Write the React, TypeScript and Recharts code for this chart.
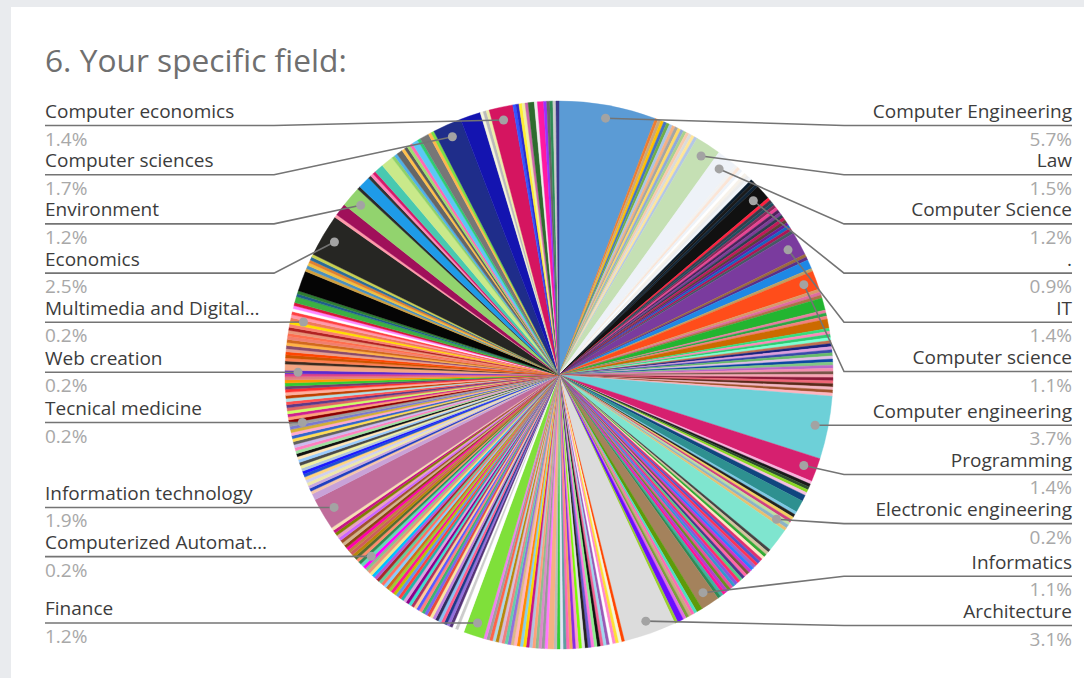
import React from 'react';
import { PieChart, Pie, Cell } from 'recharts';

// ---------- DATA (shares in % of answers, clockwise from 12 o'clock) ----------
const fieldNames = [
  'Computer Engineering', 'Law', 'Computer Science', '.', 'IT', 'Computer science',
  'Computer engineering', 'Programming', 'Electronic engineering', 'Informatics',
  'Architecture', 'Finance', 'Computerized Automat…', 'Information technology',
  'Tecnical medicine', 'Web creation', 'Multimedia and Digital…', 'Economics',
  'Environment', 'Computer sciences', 'Computer economics',
];
const fieldShares = [5.7, 1.5, 1.2, 0.9, 1.4, 1.1, 3.7, 1.4, 0.2, 1.1, 3.1, 1.2, 0.2, 1.9, 0.2, 0.2, 0.2, 2.5, 1.2, 1.7, 1.4];

// shares of the unlabelled answers that follow each labelled field in the pie
const otherSharesAfter: number[][] = [
  [0.18, 0.18, 0.18, 0.18, 0.18, 0.18, 0.18, 0.18, 0.18, 0.18, 0.18, 0.18, 0.18, 0.18, 0.18],
  [],
  [0.18, 0.18, 0.18, 0.18, 0.18, 0.18, 0.18, 0.18, 0.18, 0.18],
  [0.18, 0.18, 0.18, 0.18, 0.18, 0.18, 0.18, 0.18, 0.18, 0.18, 0.18, 0.18, 0.18, 0.18],
  [0.18, 0.18, 0.54, 0.18],
  [0.18, 0.18, 0.18, 0.72, 0.18, 0.18, 0.18, 0.54,
   0.18, 0.18, 0.18, 0.18, 0.18, 0.18, 0.18, 0.18, 0.18, 0.18, 0.18, 0.18, 0.18, 0.18, 0.18,
   0.18, 0.18, 0.18, 0.18, 0.18, 0.18, 0.18],
  [],
  [0.18, 0.18, 0.18, 0.18, 0.18, 0.36, 0.72, 0.18, 0.18, 0.18, 0.18, 0.18],
  [0.18, 1.4,
   0.18, 0.18, 0.18, 0.18, 0.18, 0.18, 0.18, 0.18, 0.18, 0.18, 0.18, 0.18, 0.18, 0.18, 0.18, 0.18, 0.18, 0.18, 0.18, 0.18, 0.18, 0.18, 0.18],
  [0.36, 0.18, 0.18, 0.18, 0.18, 0.18, 0.36, 0.18],
  [0.18, 0.18, 0.18, 0.18, 0.18, 0.18, 0.18, 0.18, 0.18, 0.18, 0.18, 0.18, 0.18, 0.18, 0.18, 0.18, 0.18, 0.18, 0.18, 0.18, 0.18, 0.18,
   0.18, 0.36,
   0.18, 0.18, 0.18, 0.18, 0.18, 0.18, 0.18, 0.18, 0.18, 0.18, 0.18, 0.18, 0.18, 0.18, 0.18, 0.18, 0.18, 0.18, 0.18, 0.18, 0.18],
  [0.36, 0.18, 0.18, 0.18, 0.18, 0.18, 0.18, 0.18, 0.18, 0.18, 0.18, 0.18, 0.18, 0.18, 0.18, 0.18, 0.18, 0.18, 0.18,
   0.18, 0.18, 0.18, 0.18, 0.18, 0.18, 0.18, 0.18, 0.18, 0.18, 0.18, 0.18, 0.18, 0.18, 0.18, 0.18, 0.18, 0.18, 0.18],
  [0.18, 0.18, 0.18, 0.18, 0.18, 0.18, 0.18, 0.18, 0.18, 0.18, 0.18, 0.18, 0.18, 0.18, 0.18],
  [0.36, 0.18, 0.18, 0.18, 0.18, 0.18, 0.18, 0.18, 0.18, 0.18, 0.18, 0.18, 0.18, 0.18, 0.18, 0.18, 0.18, 0.18, 0.18, 0.18, 0.18, 0.18, 0.18, 0.18],
  [0.18, 0.18, 0.18, 0.18, 0.18, 0.18, 0.18, 0.18, 0.18, 0.18, 0.18, 0.18, 0.18, 0.18, 0.18, 0.18],
  [0.36, 0.18, 0.18, 0.18, 0.18, 0.18, 0.18, 0.18, 0.18, 0.18, 0.18, 0.18, 0.18, 0.18, 0.18],
  [0.18, 0.18, 0.18, 0.18, 0.18, 0.36, 0.18, 0.18, 1.2, 0.18, 0.18, 0.18, 0.18, 0.18, 0.18],
  [0.18, 0.72],
  [0.18, 0.72, 0.18, 0.18, 0.18, 0.54, 0.72, 0.18, 0.18, 0.36, 0.18, 0.18, 0.18, 0.18, 0.36, 0.18, 0.54, 0.18, 0.18],
  [1.2, 0.18, 0.18, 0.18],
  [0.18, 0.18, 0.18, 0.18, 0.18, 0.36, 0.18, 0.36, 0.18, 0.18, 0.18, 0.18, 0.18],
];

// ---------- COLOURS ----------
const fieldColors = [
  '#5b9bd5', '#c5e0b4', '#eef2f8', '#111111', '#7a3b9e', '#ff4d1a',
  '#6dd0d8', '#d6206f', '#8ab4c8', '#a4825c', '#dcdcdc', '#7fe03a', '#66d9b8', '#c06c9a',
  '#9e9e9e', '#5b2bd0', '#f07a5a', '#262623', '#92d36e', '#1f2d8a', '#d51560',
];
const otherColorsAfter: string[][] = [
  ['#ed7d31', '#c9a77c', '#ffc000', '#4472c4', '#70ad47', '#a9c4e8', '#f4b183', '#a5a5a5', '#ffd966', '#8faadc', '#a9d18e', '#f8cbad', '#dbdbdb', '#ffe699', '#b4c7e7'],
  [],
  ['#f2f2f2', '#fbe5d6', '#eef3f9', '#ffffff', '#f7f2ea', '#ededed', '#f0f4fa', '#0b1c2c', '#1a1a1a', '#102436'],
  ['#ff1f3d', '#3a3a4a', '#1f4f5f', '#8a2a5a', '#e84393', '#4a235a', '#7d3c98', '#2c3e50', '#c2185b', '#5d4037', '#6a1b9a', '#1565c0', '#ad1457', '#455a64'],
  ['#9c6b3c', '#5d2f86', '#1e88e5', '#c0a060'],
  ['#d89a6a', '#e06c9f', '#b0704a', '#22b530', '#e87ca0', '#2aa845', '#f08080', '#cc6a00',
   '#33e07a', '#ff88bb', '#2ecc71', '#7fffd4', '#c07050', '#1a237e', '#dda0dd', '#3949ab', '#66bb6a', '#e1bee7', '#0d47a1', '#81c784', '#ba68c8', '#f48fb1', '#795548',
   '#f8a5b5', '#8b1a3a', '#ee6677', '#5a2a1a', '#f4b6c2', '#a0522d', '#ffb6c1'],
  [],
  ['#f7b2dc', '#1a1a1a', '#2f4f2f', '#88d822', '#f5c0e0', '#10457f', '#2e9090', '#7ec8e3', '#222222', '#f0d060', '#d04080', '#bfe0a0'],
  ['#e8c070', '#7fe5cf',
   '#444444', '#d4c4a0', '#33aa33', '#ffe4c4', '#e03070', '#5555cc', '#ff3355', '#9966cc', '#2a7fff', '#cc33cc', '#7a5a3a', '#ff66aa', '#4a3a8a', '#55cc88', '#ff2d6f', '#8855dd', '#3399cc', '#e94da0', '#6b8e23', '#b040d0', '#ff1493', '#40b0a0', '#2e8b57'],
  ['#5e9a0a', '#4de0c0', '#ff69b4', '#c8a880', '#7aa03a', '#e070e0', '#6a0dff', '#9acd32'],
  ['#ff4500', '#f5f5dc', '#ffe135', '#ff88cc', '#ffffff', '#9b59b6', '#a0d8ef', '#f06292', '#111111', '#90ee90', '#ff77dd', '#6a5acd', '#222222', '#e0e0e0', '#7cfc00', '#ff99cc', '#8a2be2', '#f4a460', '#ff69b4', '#5f9ea0', '#e6e6fa', '#32cd32',
   '#bbbbbb', '#f4b183',
   '#ff77ff', '#999999', '#dd88cc', '#8fbc8f', '#ffa07a', '#b0c4de', '#c71585', '#ffd700', '#87ceeb', '#ff8c00', '#ffb6c1', '#deb887', '#9370db', '#66cdaa', '#f08080', '#d8bfd8', '#b8860b', '#add8e6', '#ff6347', '#a0a0a0', '#ee82ee'],
  ['#ffffff', '#cccccc', '#ffffff', '#553377', '#9370db', '#1e3a8a', '#ff5c8a', '#88c0f0', '#2f2f5f', '#c080e0', '#f9e79f', '#e74c3c', '#7b68ee', '#3cb371', '#ff7f7f', '#5a5aff', '#ffcc99', '#b03060', '#40e0d0',
   '#8b008b', '#dda0dd', '#20b2aa', '#ff4040', '#6495ed', '#c0c000', '#ff1493', '#9acd32', '#d2691e', '#87cefa', '#ff6f61', '#66cc99', '#a52a2a', '#ba55d3', '#00bfff', '#f0e68c', '#e9967a', '#8fbc8f', '#ff00ff'],
  ['#2e8b57', '#ff8c69', '#556b2f', '#b8860b', '#cd5c5c', '#c08040', '#ff00aa', '#8b4513', '#d2b48c', '#a0522d', '#cc66ff', '#e9a0c0', '#808000', '#c71585', '#f5deb3'],
  ['#c8a2d8', '#f5c6aa', '#1f3fbf', '#c8a8e0', '#eee8aa', '#d0d0f0', '#ffd580', '#2050d0', '#1a1aff', '#b0c4de', '#f0f0a0', '#4a4a4a', '#99ccff', '#ffe4b5', '#111111', '#a0e0a0', '#ff80c0', '#ccbbee', '#606060', '#ffdd55', '#3366cc', '#ffaacc', '#d4af37', '#7a7ad0'],
  ['#8b0000', '#ffa07a', '#d02090', '#ccff66', '#e06666', '#5b3a8a', '#ff5050', '#b0e0e6', '#c04000', '#ffb0a0', '#ff3030', '#704070', '#33cc33', '#ff9900', '#e08080', '#dd4488'],
  ['#f4a582', '#3d2b1f', '#ff7f50', '#cc5500', '#ff4500', '#e8a090', '#8a4a6a', '#ffb347', '#d2691e', '#f08070', '#ff6f4f', '#e9967a', '#b22222', '#fa8072', '#ffdd00'],
  ['#ff99aa', '#ff4040', '#ffffff', '#ff88ff', '#dc143c', '#3cb043', '#1f5f8b', '#2e7d32', '#050505', '#d0a040', '#4a90c0', '#f0c040', '#e08030', '#2a6a9a', '#c8d050'],
  ['#ff99aa', '#a0105a'],
  ['#2a2a2a', '#1e9be8', '#333333', '#ff88bb', '#d61a6a', '#48c9b0', '#c9e98a', '#8fd16a', '#4fb0e8', '#666666', '#ffc04d', '#5a5a5a', '#9fe070', '#ff69b4', '#5bc8f5', '#2ecc71', '#777777', '#ffb74d', '#7cdd44'],
  ['#1414b0', '#f5f5dc', '#bbbbbb', '#eeeeaa'],
  ['#3355ff', '#2a2ad0', '#ffee33', '#f0f0a0', '#cc66aa', '#2e6b2e', '#eeeeee', '#ff1aa0', '#9b30ff', '#666666', '#2e8b57', '#cccccc', '#3a3a8a'],
];

// ---------- build table ----------
type Slice = { name: string; value: number; labelled: boolean; color: string };
const slices: Slice[] = [];
fieldNames.forEach((n, i) => {
  slices.push({ name: n, value: fieldShares[i], labelled: true, color: fieldColors[i] });
  (otherSharesAfter[i] || []).forEach((v, j) => {
    slices.push({ name: `Other ${i + 1}.${j + 1}`, value: v, labelled: false, color: (otherColorsAfter[i] || [])[j] || '#cccccc' });
  });
});

// ---------- layout ----------
const W = 1084;
const H = 678;
const CX = 559;
const CY = 375;
const R = 274;
const DOT_R = 261;
const BEND = 11;
const GAP = 49.2;
const TOP_Y = 125.5;
const BOTTOM_Y = 625.5;
const LEFT_X = 45;
const RIGHT_X = 1072;
const FONT = "'Open Sans', 'Noto Sans', sans-serif";
const LABEL_SIZE = 19;

const total = slices.reduce((s, d) => s + d.value, 0);

type LabelInfo = { lineY: number; side: 'left' | 'right'; name: string; pct: string; dotY: number };
const labelLayout = new Map<number, LabelInfo>();
(() => {
  let acc = 0;
  const items: { idx: number; mid: number; dotY: number }[] = [];
  slices.forEach((s, idx) => {
    const mid = ((acc + s.value / 2) / total) * 360;
    acc += s.value;
    if (s.labelled) {
      const dotY = CY - DOT_R * Math.cos((mid * Math.PI) / 180);
      items.push({ idx, mid, dotY });
    }
  });
  const resolve = (list: { idx: number; mid: number; dotY: number }[], side: 'left' | 'right') => {
    const sorted = [...list].sort((a, b) => a.dotY - b.dotY);
    const ys = sorted.map((d) => Math.min(Math.max(d.dotY, TOP_Y), BOTTOM_Y));
    for (let i = 1; i < ys.length; i++) ys[i] = Math.max(ys[i], ys[i - 1] + GAP);
    ys[ys.length - 1] = Math.min(ys[ys.length - 1], BOTTOM_Y);
    for (let i = ys.length - 2; i >= 0; i--) ys[i] = Math.min(ys[i], ys[i + 1] - GAP);
    ys[0] = Math.max(ys[0], TOP_Y);
    for (let i = 1; i < ys.length; i++) ys[i] = Math.max(ys[i], ys[i - 1] + GAP);
    sorted.forEach((d, i) => {
      const s = slices[d.idx];
      labelLayout.set(d.idx, {
        lineY: ys[i],
        side,
        name: s.name,
        pct: `${((s.value / total) * 100).toFixed(1)}%`,
        dotY: d.dotY,
      });
    });
  };
  resolve(items.filter((d) => d.mid < 180), 'right');
  resolve(items.filter((d) => d.mid >= 180), 'left');
})();

const RAD = Math.PI / 180;

const renderLabel = (props: any) => {
  const info = labelLayout.get(props.index);
  if (!info) return null;
  const cx = props.cx as number;
  const cy = props.cy as number;
  const ang = props.midAngle as number;
  const dotX = cx + DOT_R * Math.cos(-ang * RAD);
  const dotY = cy + DOT_R * Math.sin(-ang * RAD);
  const right = info.side === 'right';
  const bendX = right ? cx + (props.outerRadius as number) + BEND : cx - (props.outerRadius as number) - BEND;
  const endX = right ? RIGHT_X : LEFT_X;
  const anchor = right ? 'end' : 'start';
  return (
    <g key={`lbl-${props.index}`}>
      <polyline
        points={`${dotX},${dotY} ${bendX},${info.lineY} ${endX},${info.lineY}`}
        fill="none"
        stroke="#747474"
        strokeWidth={1.6}
      />
      <circle cx={dotX} cy={dotY} r={4.5} fill="#a3a3a3" />
      <text x={endX} y={info.lineY - 7.5} textAnchor={anchor} fontSize={LABEL_SIZE} fill="#3c3c3c" fontFamily={FONT}>
        {info.name}
      </text>
      <text x={endX} y={info.lineY + 20} textAnchor={anchor} fontSize={LABEL_SIZE} fill="#a8a8a8" fontFamily={FONT}>
        {info.pct}
      </text>
    </g>
  );
};

export default function App() {
  return (
    <div style={{ position: 'absolute', left: 0, top: 0, width: W, height: H, background: '#e9ebee', overflow: 'hidden' }}>
      <div style={{ position: 'absolute', left: 11, top: 7, width: W - 11, height: H - 7, background: '#ffffff' }} />
      <div style={{ position: 'absolute', left: 0, top: 0 }}>
        <PieChart width={W} height={H} margin={{ top: 0, right: 0, bottom: 0, left: 0 }}>
          <Pie
            data={slices}
            dataKey="value"
            nameKey="name"
            cx={CX}
            cy={CY}
            innerRadius={0}
            outerRadius={R}
            startAngle={90}
            endAngle={-270}
            isAnimationActive={false}
            labelLine={false}
            label={renderLabel}
          >
            {slices.map((s, i) => (
              <Cell key={`c-${i}`} fill={s.color} stroke={s.color} strokeWidth={0.4} />
            ))}
          </Pie>
        </PieChart>
      </div>
      <svg width={W} height={H} style={{ position: 'absolute', left: 0, top: 0, pointerEvents: 'none' }}>
        <text x={45} y={72} fontSize={31.7} fill="#6f6f6f" fontFamily={FONT}>
          6. Your specific field:
        </text>
      </svg>
    </div>
  );
}
